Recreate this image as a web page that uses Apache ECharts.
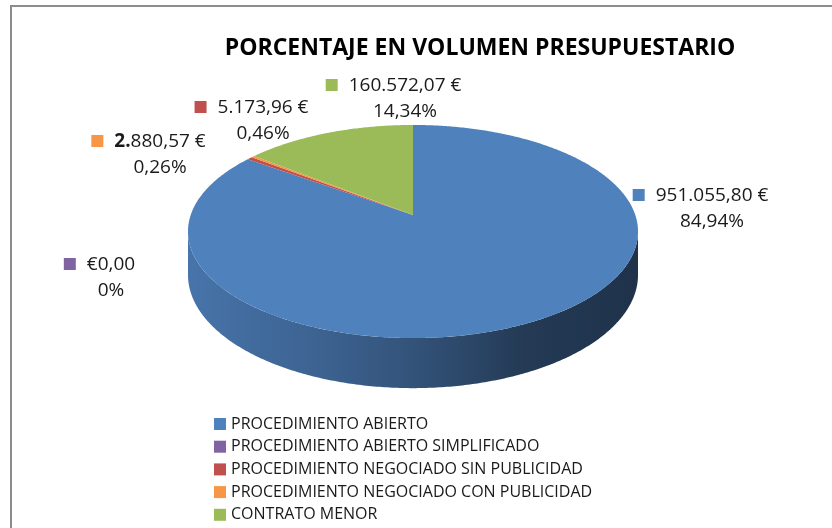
<!DOCTYPE html>
<html>
<head>
<meta charset="utf-8">
<script src="https://cdn.jsdelivr.net/npm/echarts@6/dist/echarts.min.js"></script>
<style>
  html, body { margin: 0; padding: 0; background: #fff; }
  #main { width: 832px; height: 528px; }
</style>
</head>
<body>
<div id="main"></div>
<script>
// datos
var categories = [
  'PROCEDIMIENTO ABIERTO',
  'PROCEDIMIENTO ABIERTO SIMPLIFICADO',
  'PROCEDIMIENTO NEGOCIADO SIN PUBLICIDAD',
  'PROCEDIMIENTO NEGOCIADO CON PUBLICIDAD',
  'CONTRATO MENOR'
];
var amounts = [951055.80, 0, 5173.96, 2880.57, 160572.07];

var colors = ['#4f81bd', '#8064a2', '#c0504d', '#f79646', '#9bbb59'];
// posicion de cada etiqueta (centro del texto, primera linea)
var labelAt = [[712, 196], [111, 265], [263, 108], [160, 142], [405, 86]];

var FONT = '"Open Sans", sans-serif';
var total = amounts.reduce(function (a, b) { return a + b; }, 0);

function fmtMoney(v) {
  if (v === 0) return '€0,00';
  var p = v.toFixed(2).split('.');
  return p[0].replace(/\B(?=(\d{3})+(?!\d))/g, '.') + ',' + p[1] + ' €';
}
function fmtPct(v) {
  if (v === 0) return '0%';
  return (v / total * 100).toFixed(2).replace('.', ',') + '%';
}

var ctx = document.createElement('canvas').getContext('2d');
function textW(s, font) { ctx.font = font; return ctx.measureText(s).width; }

// oscurece un color (f < 1)
function shade(hex, f) {
  var r = parseInt(hex.substr(1, 2), 16), g = parseInt(hex.substr(3, 2), 16), b = parseInt(hex.substr(5, 2), 16);
  return 'rgb(' + Math.round(r * f) + ',' + Math.round(g * f) + ',' + Math.round(b * f) + ')';
}

// pastel 3D en perspectiva
var cx = 413, cy = 215, sx = 222.3, sy = 104, k = 0.155, depth = 42.3;
var tEdge = Math.acos(-k);
function proj(t, drop) {
  var den = 1 + k * Math.cos(t);
  return [cx + sx * Math.sin(t) / den, cy - sy * Math.cos(t) / den + drop / den];
}
function arc(a0, a1, drop) {
  var pts = [], n = Math.max(2, Math.ceil((a1 - a0) / 0.01));
  for (var i = 0; i <= n; i++) pts.push(proj(a0 + (a1 - a0) * i / n, drop));
  return pts;
}

function renderItem(params, api) {
  var i = params.dataIndex;
  var v = api.value(0);
  var start = 0;
  for (var j = 0; j < i; j++) start += amounts[j];
  var a0 = start / total * Math.PI * 2;
  var a1 = (start + v) / total * Math.PI * 2;
  var children = [];

  if (v > 0) {
    children.push({
      type: 'polygon', z2: 10,
      shape: { points: [[cx, cy]].concat(arc(a0, a1, 0)) },
      style: { fill: colors[i] }
    });
    var s0 = Math.max(a0, tEdge), s1 = Math.min(a1, Math.PI * 2 - tEdge);
    if (s1 > s0) {
      var top = arc(s0, s1, 0), bot = arc(s0, s1, depth).reverse();
      children.push({
        type: 'polygon', z2: 1,
        shape: { points: top.concat(bot) },
        style: {
          fill: new echarts.graphic.LinearGradient(0, 0, 1, 0, [
            { offset: 0, color: shade(colors[i], 0.9) },
            { offset: 0.3, color: shade(colors[i], 0.76) },
            { offset: 0.5, color: shade(colors[i], 0.64) },
            { offset: 0.75, color: shade(colors[i], 0.45) },
            { offset: 1, color: shade(colors[i], 0.39) }
          ])
        }
      });
    }
  }

  // etiqueta
  var lx = labelAt[i][0], ly = labelAt[i][1];
  var money = fmtMoney(v);
  var f1 = '19px ' + FONT;
  var w1 = textW(money, f1);
  var line1 = { type: 'text', z2: 20, x: lx, y: ly,
    style: { text: money, font: f1, fill: '#1a1a1a', align: 'center', verticalAlign: 'middle' } };
  if (i === 3) {
    // la cifra lleva el "2." en negrita como en el original
    w1 = textW(money.slice(0, 2), 'bold ' + f1) + textW(money.slice(2), f1);
    line1.style = {
      text: '{b|' + money.slice(0, 2) + '}' + money.slice(2),
      font: f1, fill: '#1a1a1a', align: 'center', verticalAlign: 'middle',
      rich: { b: { fontWeight: 'bold', fontSize: 19, fontFamily: FONT, fill: '#1a1a1a' } }
    };
  }
  children.push(line1);
  children.push({ type: 'rect', z2: 20,
    shape: { x: lx - w1 / 2 - 11 - 12, y: ly - 7, width: 12, height: 12 },
    style: { fill: colors[i] } });
  children.push({ type: 'text', z2: 20, x: lx, y: ly + 26,
    style: { text: fmtPct(v), font: f1, fill: '#1a1a1a', align: 'center', verticalAlign: 'middle' } });

  return { type: 'group', children: children };
}

var chart = echarts.init(document.getElementById('main'));
chart.setOption({
  animation: false,
  color: colors,
  title: {
    text: 'PORCENTAJE EN VOLUMEN PRESUPUESTARIO',
    left: 480, top: 37, textAlign: 'center', padding: 0,
    textStyle: { fontFamily: FONT, fontSize: 23, fontWeight: 'bold', color: '#000' }
  },
  legend: {
    orient: 'vertical', left: 214, top: 416, padding: 0,
    itemWidth: 12, itemHeight: 12, itemGap: 6.7, icon: 'rect',
    data: categories,
    textStyle: { fontFamily: FONT, fontSize: 16, lineHeight: 16, color: '#1a1a1a' },
    selectedMode: false
  },
  graphic: [{
    type: 'rect', silent: true, z: -10,
    shape: { x: 11, y: 6, width: 840, height: 540 },
    style: { fill: 'none', stroke: '#8c8c8c', lineWidth: 2 }
  }],
  series: [
    {
      // solo para la leyenda
      type: 'pie', radius: [0, 0], center: [-100, -100], silent: true,
      label: { show: false }, labelLine: { show: false },
      data: categories.map(function (n, i) { return { name: n, value: amounts[i] }; })
    },
    {
      type: 'custom', coordinateSystem: 'none', silent: true,
      renderItem: renderItem,
      data: amounts.map(function (v) { return [v]; })
    }
  ]
});
</script>
</body>
</html>
